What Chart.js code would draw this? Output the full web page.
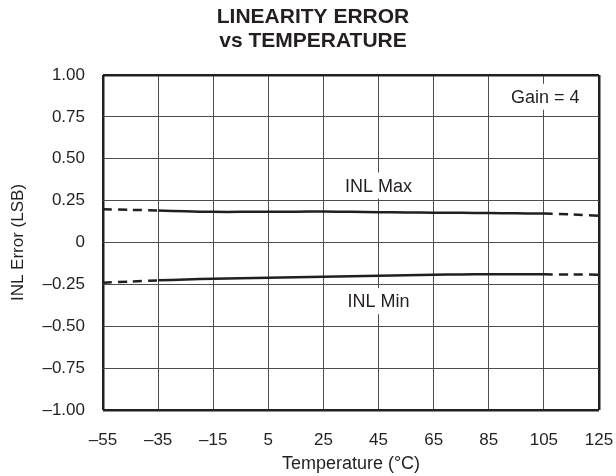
<!DOCTYPE html>
<html>
<head>
<meta charset="utf-8">
<script src="https://cdn.jsdelivr.net/npm/chart.js@4.4.1/dist/chart.umd.min.js"></script>
<style>
  html, body { margin: 0; padding: 0; background: #ffffff; }
  #wrap { width: 616px; height: 476px; position: relative; }
</style>
</head>
<body>
<div id="wrap"><canvas id="c" width="616" height="476"></canvas></div>
<script>
// ---- data ----
const temps  = [-55, -45, -35, -25, -15, -5, 5, 15, 25, 35, 45, 55, 65, 75, 85, 95, 105, 115, 125];
const inlMax = [0.198, 0.195, 0.191, 0.186, 0.183, 0.183, 0.183, 0.184, 0.185, 0.183, 0.181, 0.179, 0.178, 0.177, 0.176, 0.174, 0.173, 0.168, 0.160];
const inlMin = [-0.240, -0.233, -0.226, -0.221, -0.216, -0.213, -0.210, -0.207, -0.204, -0.201, -0.198, -0.195, -0.192, -0.191, -0.189, -0.189, -0.190, -0.191, -0.192];
const xTickValues = [-55, -35, -15, 5, 25, 45, 65, 85, 105, 125];
const xTickLabels = ['\u201355', '\u201335', '\u201315', '5', '25', '45', '65', '85', '105', '125'];
const yTickValues = [-1, -0.75, -0.5, -0.25, 0, 0.25, 0.5, 0.75, 1];
const yTickLabels = ['\u20131.00', '\u20130.75', '\u20130.50', '\u20130.25', '0', '0.25', '0.50', '0.75', '1.00'];
const titleLines = ['LINEARITY ERROR', 'vs TEMPERATURE'];
const xTitle = 'Temperature (\u00B0C)';
const yTitle = 'INL Error (LSB)';
const notes = [
  { text: 'INL Max', x: 45, y: 0.34 },
  { text: 'INL Min', x: 45, y: -0.35 },
  { text: 'Gain = 4', x: 105.5, y: 0.87 }
];

// ---- styles ----
const INK = '#231f20';
const GRID = '#4d4d4d';
const FONT = 'Liberation Sans, Arial, Helvetica, sans-serif';
const dashRange = (ctx) => (ctx.p1.parsed.x <= -35 || ctx.p0.parsed.x >= 105) ? [9, 6] : undefined;

const notePlugin = {
  id: 'notes',
  beforeDatasetsDraw(chart) {
    const { ctx, scales } = chart;
    ctx.save();
    ctx.font = '18px ' + FONT;
    ctx.textAlign = 'center';
    ctx.textBaseline = 'middle';
    notes.forEach(n => {
      const px = scales.x.getPixelForValue(n.x);
      const py = scales.y.getPixelForValue(n.y);
      const w = ctx.measureText(n.text).width;
      ctx.fillStyle = '#ffffff';
      ctx.fillRect(px - w / 2 - 3, py - 13, w + 6, 26);
      ctx.fillStyle = INK;
      ctx.fillText(n.text, px, py + 1);
    });
    ctx.restore();
  }
};

const edgeWidth = (isEdge) => isEdge ? 2.5 : 1;

new Chart(document.getElementById('c'), {
  type: 'line',
  data: {
    datasets: [
      {
        label: 'INL Max',
        data: temps.map((t, i) => ({ x: t, y: inlMax[i] })),
        borderColor: INK, borderWidth: 2.5, pointRadius: 0, tension: 0.3,
        segment: { borderDash: dashRange }
      },
      {
        label: 'INL Min',
        data: temps.map((t, i) => ({ x: t, y: inlMin[i] })),
        borderColor: INK, borderWidth: 2.5, pointRadius: 0, tension: 0.3,
        segment: { borderDash: dashRange }
      }
    ]
  },
  options: {
    responsive: false,
    animation: false,
    devicePixelRatio: 1,
    layout: { padding: { left: 27, right: 17, top: 0, bottom: 0 } },
    plugins: {
      legend: { display: false },
      tooltip: { enabled: false },
      title: {
        display: true,
        text: titleLines,
        color: INK,
        font: { family: FONT, size: 21, weight: 'bold', lineHeight: 1.15 },
        padding: { top: 5, bottom: 21.7 }
      }
    },
    scales: {
      x: {
        type: 'linear',
        min: -55, max: 125,
        afterBuildTicks: (s) => { s.ticks = xTickValues.map(v => ({ value: v })); },
        afterFit: (s) => { s.height = 66; s.paddingLeft = 0; s.paddingRight = 0; },
        border: { display: false },
        grid: {
          color: (c) => (c.tick && (c.tick.value === -55 || c.tick.value === 125)) ? INK : GRID,
          lineWidth: (c) => edgeWidth(c.tick && (c.tick.value === -55 || c.tick.value === 125)),
          drawTicks: false
        },
        ticks: {
          color: INK, padding: 20, maxRotation: 0, autoSkip: false,
          font: { family: FONT, size: 17 },
          callback: (v, i) => xTickLabels[i]
        },
        title: {
          display: true, text: xTitle, color: INK,
          font: { family: FONT, size: 18, lineHeight: 1.2 }, padding: { top: 0, bottom: 1 }
        }
      },
      y: {
        min: -1, max: 1,
        afterBuildTicks: (s) => { s.ticks = yTickValues.map(v => ({ value: v })); },
        afterFit: (s) => { s.width = 76; },
        border: { display: false },
        grid: {
          color: (c) => (c.tick && (c.tick.value === -1 || c.tick.value === 1)) ? INK : GRID,
          lineWidth: (c) => edgeWidth(c.tick && (c.tick.value === -1 || c.tick.value === 1)),
          drawTicks: false
        },
        ticks: {
          color: INK, padding: 18, autoSkip: false,
          font: { family: FONT, size: 17 },
          callback: (v, i) => yTickLabels[i]
        },
        title: {
          display: true, text: yTitle, color: INK,
          font: { family: FONT, size: 17, lineHeight: 1.0 }, padding: { top: -17.5, bottom: 0 }
        }
      }
    }
  },
  plugins: [notePlugin]
});
</script>
</body>
</html>
